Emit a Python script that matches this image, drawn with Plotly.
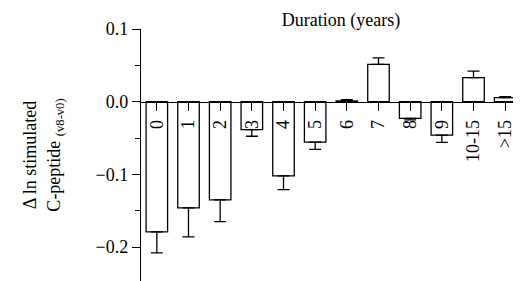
import plotly.graph_objects as go

categories = ["0", "1", "2", "3", "4", "5", "6", "7", "8", "9", "10-15", ">15"]
values = [-0.179, -0.146, -0.135, -0.0385, -0.102, -0.0555, 0.001, 0.0513, -0.023, -0.046, 0.033, 0.0055]
errors = [0.029, 0.040, 0.030, 0.009, 0.019, 0.010, 0.002, 0.009, 0.002, 0.010, 0.009, 0.0015]

err_up = [e if v >= 0 else 0 for v, e in zip(values, errors)]
err_down = [e if v < 0 else 0 for v, e in zip(values, errors)]

FONT = "Liberation Serif"
ymin, ymax = -0.2466, 0.1

# page body has an 8px default margin, so the figure is sized to fit the window
W, H = 513, 273

fig = go.Figure(go.Bar(
    x=list(range(len(categories))), y=values,
    width=0.68,
    marker=dict(color="white", line=dict(color="black", width=1.3)),
    error_y=dict(type="data", symmetric=False, array=err_up, arrayminus=err_down,
                 color="black", thickness=1.3, width=6),
))

fig.update_layout(
    width=W, height=H,
    margin=dict(l=133, r=0, t=21, b=0),
    plot_bgcolor="white", paper_bgcolor="white",
    showlegend=False,
    font=dict(family=FONT, color="black", size=18),
    title=dict(text="Duration (years)", x=(341 - 8) / W, xanchor="center",
               y=1 - 12 / H, yanchor="middle", yref="container",
               font=dict(family=FONT, size=18, color="black")),
    xaxis=dict(
        range=[-0.5, 11.5], automargin=False,
        tickmode="array", tickvals=list(range(len(categories))), ticktext=categories,
        tickangle=-90, ticks="outside", ticklen=8, tickwidth=1.3, tickcolor="black",
        ticklabelstandoff=2,
        showline=True, linecolor="black", linewidth=1.3,
        showgrid=False, zeroline=False,
        anchor="free", position=(0 - ymin) / (ymax - ymin),
        tickfont=dict(family=FONT, size=18, color="black"),
    ),
    yaxis=dict(
        range=[ymin, ymax], automargin=False,
        tickmode="array", tickvals=[0.1, 0.0, -0.1, -0.2],
        ticktext=["0.1", "0.0", "\u22120.1", "\u22120.2"],
        ticks="outside", ticklen=8, tickwidth=1.3, tickcolor="black",
        minor=dict(tickmode="array", tickvals=[0.05, -0.05, -0.15],
                   ticks="outside", ticklen=5, tickwidth=1.3, tickcolor="black"),
        showline=True, linecolor="black", linewidth=1.3,
        showgrid=False, zeroline=False,
        tickfont=dict(family=FONT, size=18, color="black"),
        title=dict(text="\u0394 ln stimulated<br>C-peptide <sub>(v8-v0)</sub>",
                   font=dict(family=FONT, size=18, color="black"), standoff=30),
    ),
)

fig.write_html("out.html")
